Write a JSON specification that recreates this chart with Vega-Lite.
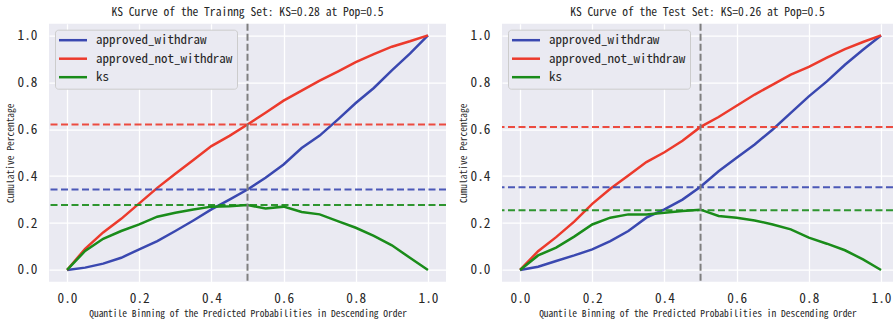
{
  "$schema": "https://vega.github.io/schema/vega-lite/v6.json",
  "autosize": {"type": "pad"},
  "padding": {"left": 5, "top": 6.7, "right": 0, "bottom": 3},
  "bounds": "flush",
  "spacing": 56,
  "datasets": {
    "curves": [
      {"panel": "train", "x": 0.0, "series": "approved_withdraw", "value": 0.0},
      {"panel": "train", "x": 0.05, "series": "approved_withdraw", "value": 0.01},
      {"panel": "train", "x": 0.1, "series": "approved_withdraw", "value": 0.027},
      {"panel": "train", "x": 0.15, "series": "approved_withdraw", "value": 0.052},
      {"panel": "train", "x": 0.2, "series": "approved_withdraw", "value": 0.088},
      {"panel": "train", "x": 0.25, "series": "approved_withdraw", "value": 0.123},
      {"panel": "train", "x": 0.3, "series": "approved_withdraw", "value": 0.166},
      {"panel": "train", "x": 0.35, "series": "approved_withdraw", "value": 0.211},
      {"panel": "train", "x": 0.4, "series": "approved_withdraw", "value": 0.258},
      {"panel": "train", "x": 0.45, "series": "approved_withdraw", "value": 0.3},
      {"panel": "train", "x": 0.5, "series": "approved_withdraw", "value": 0.343},
      {"panel": "train", "x": 0.55, "series": "approved_withdraw", "value": 0.393},
      {"panel": "train", "x": 0.6, "series": "approved_withdraw", "value": 0.45},
      {"panel": "train", "x": 0.65, "series": "approved_withdraw", "value": 0.52},
      {"panel": "train", "x": 0.7, "series": "approved_withdraw", "value": 0.573},
      {"panel": "train", "x": 0.75, "series": "approved_withdraw", "value": 0.641},
      {"panel": "train", "x": 0.8, "series": "approved_withdraw", "value": 0.712},
      {"panel": "train", "x": 0.85, "series": "approved_withdraw", "value": 0.776},
      {"panel": "train", "x": 0.9, "series": "approved_withdraw", "value": 0.851},
      {"panel": "train", "x": 0.95, "series": "approved_withdraw", "value": 0.922},
      {"panel": "train", "x": 1.0, "series": "approved_withdraw", "value": 1.0},
      {"panel": "train", "x": 0.0, "series": "approved_not_withdraw", "value": 0.0},
      {"panel": "train", "x": 0.05, "series": "approved_not_withdraw", "value": 0.09},
      {"panel": "train", "x": 0.1, "series": "approved_not_withdraw", "value": 0.16},
      {"panel": "train", "x": 0.15, "series": "approved_not_withdraw", "value": 0.218},
      {"panel": "train", "x": 0.2, "series": "approved_not_withdraw", "value": 0.284},
      {"panel": "train", "x": 0.25, "series": "approved_not_withdraw", "value": 0.35},
      {"panel": "train", "x": 0.3, "series": "approved_not_withdraw", "value": 0.41},
      {"panel": "train", "x": 0.35, "series": "approved_not_withdraw", "value": 0.469},
      {"panel": "train", "x": 0.4, "series": "approved_not_withdraw", "value": 0.528},
      {"panel": "train", "x": 0.45, "series": "approved_not_withdraw", "value": 0.572},
      {"panel": "train", "x": 0.5, "series": "approved_not_withdraw", "value": 0.62},
      {"panel": "train", "x": 0.55, "series": "approved_not_withdraw", "value": 0.67},
      {"panel": "train", "x": 0.6, "series": "approved_not_withdraw", "value": 0.722},
      {"panel": "train", "x": 0.65, "series": "approved_not_withdraw", "value": 0.765},
      {"panel": "train", "x": 0.7, "series": "approved_not_withdraw", "value": 0.807},
      {"panel": "train", "x": 0.75, "series": "approved_not_withdraw", "value": 0.846},
      {"panel": "train", "x": 0.8, "series": "approved_not_withdraw", "value": 0.886},
      {"panel": "train", "x": 0.85, "series": "approved_not_withdraw", "value": 0.92},
      {"panel": "train", "x": 0.9, "series": "approved_not_withdraw", "value": 0.952},
      {"panel": "train", "x": 0.95, "series": "approved_not_withdraw", "value": 0.975},
      {"panel": "train", "x": 1.0, "series": "approved_not_withdraw", "value": 1.0},
      {"panel": "train", "x": 0.0, "series": "ks", "value": 0.0},
      {"panel": "train", "x": 0.05, "series": "ks", "value": 0.081},
      {"panel": "train", "x": 0.1, "series": "ks", "value": 0.133},
      {"panel": "train", "x": 0.15, "series": "ks", "value": 0.166},
      {"panel": "train", "x": 0.2, "series": "ks", "value": 0.194},
      {"panel": "train", "x": 0.25, "series": "ks", "value": 0.227},
      {"panel": "train", "x": 0.3, "series": "ks", "value": 0.244},
      {"panel": "train", "x": 0.35, "series": "ks", "value": 0.258},
      {"panel": "train", "x": 0.4, "series": "ks", "value": 0.27},
      {"panel": "train", "x": 0.45, "series": "ks", "value": 0.272},
      {"panel": "train", "x": 0.5, "series": "ks", "value": 0.277},
      {"panel": "train", "x": 0.55, "series": "ks", "value": 0.262},
      {"panel": "train", "x": 0.6, "series": "ks", "value": 0.27},
      {"panel": "train", "x": 0.65, "series": "ks", "value": 0.247},
      {"panel": "train", "x": 0.7, "series": "ks", "value": 0.237},
      {"panel": "train", "x": 0.75, "series": "ks", "value": 0.208},
      {"panel": "train", "x": 0.8, "series": "ks", "value": 0.18},
      {"panel": "train", "x": 0.85, "series": "ks", "value": 0.145},
      {"panel": "train", "x": 0.9, "series": "ks", "value": 0.105},
      {"panel": "train", "x": 0.95, "series": "ks", "value": 0.052},
      {"panel": "train", "x": 1.0, "series": "ks", "value": 0.0},
      {"panel": "test", "x": 0.0, "series": "approved_withdraw", "value": 0.0},
      {"panel": "test", "x": 0.05, "series": "approved_withdraw", "value": 0.014},
      {"panel": "test", "x": 0.1, "series": "approved_withdraw", "value": 0.038},
      {"panel": "test", "x": 0.15, "series": "approved_withdraw", "value": 0.062},
      {"panel": "test", "x": 0.2, "series": "approved_withdraw", "value": 0.088},
      {"panel": "test", "x": 0.25, "series": "approved_withdraw", "value": 0.123},
      {"panel": "test", "x": 0.3, "series": "approved_withdraw", "value": 0.166},
      {"panel": "test", "x": 0.35, "series": "approved_withdraw", "value": 0.223},
      {"panel": "test", "x": 0.4, "series": "approved_withdraw", "value": 0.258},
      {"panel": "test", "x": 0.45, "series": "approved_withdraw", "value": 0.3},
      {"panel": "test", "x": 0.5, "series": "approved_withdraw", "value": 0.355},
      {"panel": "test", "x": 0.55, "series": "approved_withdraw", "value": 0.421},
      {"panel": "test", "x": 0.6, "series": "approved_withdraw", "value": 0.478},
      {"panel": "test", "x": 0.65, "series": "approved_withdraw", "value": 0.535},
      {"panel": "test", "x": 0.7, "series": "approved_withdraw", "value": 0.599},
      {"panel": "test", "x": 0.75, "series": "approved_withdraw", "value": 0.67},
      {"panel": "test", "x": 0.8, "series": "approved_withdraw", "value": 0.74},
      {"panel": "test", "x": 0.85, "series": "approved_withdraw", "value": 0.804},
      {"panel": "test", "x": 0.9, "series": "approved_withdraw", "value": 0.875},
      {"panel": "test", "x": 0.95, "series": "approved_withdraw", "value": 0.939},
      {"panel": "test", "x": 1.0, "series": "approved_withdraw", "value": 1.0},
      {"panel": "test", "x": 0.0, "series": "approved_not_withdraw", "value": 0.0},
      {"panel": "test", "x": 0.05, "series": "approved_not_withdraw", "value": 0.08},
      {"panel": "test", "x": 0.1, "series": "approved_not_withdraw", "value": 0.14},
      {"panel": "test", "x": 0.15, "series": "approved_not_withdraw", "value": 0.206},
      {"panel": "test", "x": 0.2, "series": "approved_not_withdraw", "value": 0.282},
      {"panel": "test", "x": 0.25, "series": "approved_not_withdraw", "value": 0.346},
      {"panel": "test", "x": 0.3, "series": "approved_not_withdraw", "value": 0.403},
      {"panel": "test", "x": 0.35, "series": "approved_not_withdraw", "value": 0.46},
      {"panel": "test", "x": 0.4, "series": "approved_not_withdraw", "value": 0.502},
      {"panel": "test", "x": 0.45, "series": "approved_not_withdraw", "value": 0.551},
      {"panel": "test", "x": 0.5, "series": "approved_not_withdraw", "value": 0.61},
      {"panel": "test", "x": 0.55, "series": "approved_not_withdraw", "value": 0.652},
      {"panel": "test", "x": 0.6, "series": "approved_not_withdraw", "value": 0.7},
      {"panel": "test", "x": 0.65, "series": "approved_not_withdraw", "value": 0.748},
      {"panel": "test", "x": 0.7, "series": "approved_not_withdraw", "value": 0.79},
      {"panel": "test", "x": 0.75, "series": "approved_not_withdraw", "value": 0.833},
      {"panel": "test", "x": 0.8, "series": "approved_not_withdraw", "value": 0.866},
      {"panel": "test", "x": 0.85, "series": "approved_not_withdraw", "value": 0.905},
      {"panel": "test", "x": 0.9, "series": "approved_not_withdraw", "value": 0.942},
      {"panel": "test", "x": 0.95, "series": "approved_not_withdraw", "value": 0.972},
      {"panel": "test", "x": 1.0, "series": "approved_not_withdraw", "value": 1.0},
      {"panel": "test", "x": 0.0, "series": "ks", "value": 0.0},
      {"panel": "test", "x": 0.05, "series": "ks", "value": 0.062},
      {"panel": "test", "x": 0.1, "series": "ks", "value": 0.095},
      {"panel": "test", "x": 0.15, "series": "ks", "value": 0.142},
      {"panel": "test", "x": 0.2, "series": "ks", "value": 0.194},
      {"panel": "test", "x": 0.25, "series": "ks", "value": 0.223},
      {"panel": "test", "x": 0.3, "series": "ks", "value": 0.237},
      {"panel": "test", "x": 0.35, "series": "ks", "value": 0.237},
      {"panel": "test", "x": 0.4, "series": "ks", "value": 0.244},
      {"panel": "test", "x": 0.45, "series": "ks", "value": 0.251},
      {"panel": "test", "x": 0.5, "series": "ks", "value": 0.257},
      {"panel": "test", "x": 0.55, "series": "ks", "value": 0.23},
      {"panel": "test", "x": 0.6, "series": "ks", "value": 0.223},
      {"panel": "test", "x": 0.65, "series": "ks", "value": 0.211},
      {"panel": "test", "x": 0.7, "series": "ks", "value": 0.194},
      {"panel": "test", "x": 0.75, "series": "ks", "value": 0.173},
      {"panel": "test", "x": 0.8, "series": "ks", "value": 0.138},
      {"panel": "test", "x": 0.85, "series": "ks", "value": 0.112},
      {"panel": "test", "x": 0.9, "series": "ks", "value": 0.084},
      {"panel": "test", "x": 0.95, "series": "ks", "value": 0.045},
      {"panel": "test", "x": 1.0, "series": "ks", "value": 0.0}
    ],
    "refs": [
      {"panel": "train", "series": "approved_withdraw", "ref": 0.343},
      {"panel": "train", "series": "approved_not_withdraw", "ref": 0.62},
      {"panel": "train", "series": "ks", "ref": 0.277},
      {"panel": "test", "series": "approved_withdraw", "ref": 0.353},
      {"panel": "test", "series": "approved_not_withdraw", "ref": 0.61},
      {"panel": "test", "series": "ks", "ref": 0.255}
    ],
    "pops": [
      {"panel": "train", "pop": 0.5},
      {"panel": "test", "pop": 0.5}
    ]
  },
  "hconcat": [
    {
      "width": 397,
      "height": 258,
      "title": "KS Curve of the Trainng Set: KS=0.28 at Pop=0.5",
      "layer": [
        {
          "data": {"name": "curves"},
          "transform": [{"filter": "datum.panel === 'train'"}],
          "mark": {"type": "line", "strokeWidth": 2.5, "clip": true},
          "encoding": {
            "x": {"field": "x", "type": "quantitative", "scale": {"domain": [-0.05, 1.05], "nice": false, "zero": false},
                  "axis": {"title": "Quantile Binning of the Predicted Probabilities in Descending Order", "values": [0, 0.2, 0.4, 0.6, 0.8, 1.0], "format": ".1f"}},
            "y": {"field": "value", "type": "quantitative", "scale": {"domain": [-0.05, 1.05], "nice": false, "zero": false},
                  "axis": {"title": "Cumulative Percentage", "values": [0, 0.2, 0.4, 0.6, 0.8, 1.0], "format": ".1f"}},
            "color": {"field": "series", "type": "nominal",
                      "scale": {"domain": ["approved_withdraw", "approved_not_withdraw", "ks"], "range": ["#3a48b0", "#ec3a2c", "#1a8c1a"]},
                      "legend": {"title": null, "orient": "none", "legendX": 6, "legendY": 6}}
          }
        },
        {
          "data": {"name": "refs"},
          "transform": [{"filter": "datum.panel === 'train'"}],
          "mark": {"type": "rule", "strokeWidth": 2, "strokeDash": [7, 3.5], "opacity": 0.9},
          "encoding": {
            "y": {"field": "ref", "type": "quantitative"},
            "stroke": {"field": "series", "type": "nominal",
                       "scale": {"domain": ["approved_withdraw", "approved_not_withdraw", "ks"], "range": ["#3a48b0", "#ec3a2c", "#1a8c1a"]},
                       "legend": null}
          }
        },
        {
          "data": {"name": "pops"},
          "transform": [{"filter": "datum.panel === 'train'"}],
          "mark": {"type": "rule", "strokeWidth": 2, "strokeDash": [7, 3], "color": "#7f7f7f"},
          "encoding": {
            "x": {"field": "pop", "type": "quantitative"}
          }
        }
      ]
    },
    {
      "width": 391,
      "height": 258,
      "title": "KS Curve of the Test Set: KS=0.26 at Pop=0.5",
      "layer": [
        {
          "data": {"name": "curves"},
          "transform": [{"filter": "datum.panel === 'test'"}],
          "mark": {"type": "line", "strokeWidth": 2.5, "clip": true},
          "encoding": {
            "x": {"field": "x", "type": "quantitative", "scale": {"domain": [-0.05, 1.0331], "nice": false, "zero": false},
                  "axis": {"title": "Quantile Binning of the Predicted Probabilities in Descending Order", "values": [0, 0.2, 0.4, 0.6, 0.8, 1.0], "format": ".1f"}},
            "y": {"field": "value", "type": "quantitative", "scale": {"domain": [-0.05, 1.05], "nice": false, "zero": false},
                  "axis": {"title": "Cumulative Percentage", "values": [0, 0.2, 0.4, 0.6, 0.8, 1.0], "format": ".1f"}},
            "color": {"field": "series", "type": "nominal",
                      "scale": {"domain": ["approved_withdraw", "approved_not_withdraw", "ks"], "range": ["#3a48b0", "#ec3a2c", "#1a8c1a"]},
                      "legend": {"title": null, "orient": "none", "legendX": 6, "legendY": 6}}
          }
        },
        {
          "data": {"name": "refs"},
          "transform": [{"filter": "datum.panel === 'test'"}],
          "mark": {"type": "rule", "strokeWidth": 2, "strokeDash": [7, 3.5], "opacity": 0.9},
          "encoding": {
            "y": {"field": "ref", "type": "quantitative"},
            "stroke": {"field": "series", "type": "nominal",
                       "scale": {"domain": ["approved_withdraw", "approved_not_withdraw", "ks"], "range": ["#3a48b0", "#ec3a2c", "#1a8c1a"]},
                       "legend": null}
          }
        },
        {
          "data": {"name": "pops"},
          "transform": [{"filter": "datum.panel === 'test'"}],
          "mark": {"type": "rule", "strokeWidth": 2, "strokeDash": [7, 3], "color": "#7f7f7f"},
          "encoding": {
            "x": {"field": "pop", "type": "quantitative"}
          }
        }
      ]
    }
  ],
  "resolve": {"scale": {"x": "independent", "y": "independent", "color": "independent", "stroke": "independent"}, "legend": {"color": "independent"}},
  "config": {
    "font": "Noto Sans Mono CJK SC, DejaVu Sans Mono, monospace",
    "view": {"fill": "#eaeaf2", "stroke": null},
    "axis": {
      "grid": true, "gridColor": "#ffffff", "gridWidth": 1.3, "domain": false, "ticks": false, "tickSize": 0,
      "labelFont": "Noto Sans Mono CJK SC, DejaVu Sans Mono, monospace", "labelFontSize": 13.3, "labelColor": "#262626",
      "titleFont": "Noto Sans Mono CJK SC, DejaVu Sans Mono, monospace", "titleFontSize": 9.5, "titleFontWeight": "normal", "titleColor": "#262626"
    },
    "axisX": {"labelPadding": 10, "titlePadding": 4},
    "axisY": {"labelPadding": 12, "titlePadding": 2},
    "title": {"font": "Noto Sans Mono CJK SC, DejaVu Sans Mono, monospace", "fontSize": 11.6, "fontWeight": "normal", "color": "#262626", "anchor": "middle", "baseline": "alphabetic", "offset": 4},
    "legend": {
      "labelFont": "Noto Sans Mono CJK SC, DejaVu Sans Mono, monospace", "labelFontSize": 13, "labelColor": "#262626",
      "symbolType": "M-1.3,0H4.3", "symbolSize": 100, "symbolStrokeWidth": 2.5, "labelOffset": 24,
      "rowPadding": 4.5, "padding": 4, "fillColor": "#eaeaf2", "strokeColor": "#cccccc", "cornerRadius": 3
    }
  }
}
